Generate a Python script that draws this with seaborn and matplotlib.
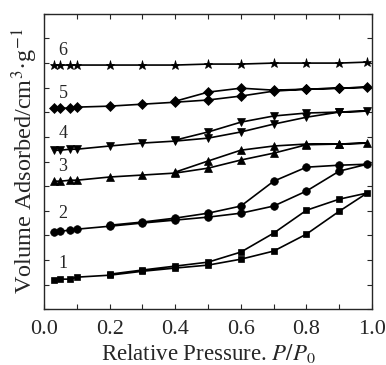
import pandas as pd
import seaborn as sns
import matplotlib.pyplot as plt

# pressoes relativas (adsorcao e dessorcao)
p_ads = [0.03, 0.05, 0.08, 0.10, 0.20, 0.30, 0.40, 0.50, 0.60, 0.70, 0.80, 0.90, 0.985]
p_des = [0.90, 0.80, 0.70, 0.60, 0.50, 0.40, 0.30, 0.20]

# amostra 1 (quadrados)
s1_ads = [1.18, 1.22, 1.22, 1.30, 1.38, 1.54, 1.67, 1.79, 2.03, 2.36, 3.05, 3.98, 4.72]
s1_des = [4.47, 4.02, 3.09, 2.32, 1.91, 1.75, 1.59, 1.42]
# amostra 2 (circulos)
s2_ads = [3.13, 3.17, 3.21, 3.25, 3.37, 3.50, 3.62, 3.74, 3.90, 4.19, 4.80, 5.61, 5.89]
s2_des = [5.85, 5.77, 5.20, 4.19, 3.90, 3.70, 3.54, 3.41]
# amostra 3 (triangulos)
s3_ads = [5.20, 5.20, 5.24, 5.24, 5.37, 5.45, 5.53, 5.73, 6.06, 6.34, 6.68, 6.71, 6.75]
s3_des = [6.71, 6.71, 6.63, 6.46, 6.02, 5.57]
# amostra 4 (triangulos invertidos)
s4_ads = [6.46, 6.46, 6.50, 6.50, 6.63, 6.75, 6.83, 6.95, 7.20, 7.52, 7.80, 8.01, 8.05]
s4_des = [8.01, 7.97, 7.85, 7.60, 7.20, 6.87]
# amostra 5 (losangos)
s5_ads = [8.17, 8.17, 8.17, 8.21, 8.25, 8.33, 8.41, 8.50, 8.66, 8.86, 8.94, 8.98, 9.02]
s5_des = [8.98, 8.94, 8.90, 8.98, 8.82, 8.45]
# amostra 6 (estrelas)
s6_ads = [9.92, 9.92, 9.92, 9.92, 9.92, 9.92, 9.92, 9.96, 9.96, 10.0, 10.0, 10.0, 10.04]
s6_des = []

series = [
    ('1', s1_ads, s1_des, 's', 5),
    ('2', s2_ads, s2_des, 'o', 5.5),
    ('3', s3_ads, s3_des, '^', 6),
    ('4', s4_ads, s4_des, 'v', 6),
    ('5', s5_ads, s5_des, 'D', 5),
    ('6', s6_ads, s6_des, '*', 6.5),
]
label_y = [1.85, 3.88, 5.78, 7.12, 8.75, 10.5]

sns.set_theme(style='ticks')
plt.rcParams['font.family'] = ['Liberation Serif', 'DejaVu Serif']
plt.rcParams['mathtext.fontset'] = 'stix'

fig = plt.figure(figsize=(3.86, 3.65), dpi=100)
ax = fig.add_axes([0.114, 0.153, 0.850, 0.809])

for (nome, ads, des, mk, ms), ly in zip(series, label_y):
    df = pd.DataFrame({'p': p_ads + p_des[:len(des)], 'v': ads + des})
    sns.lineplot(data=df, x='p', y='v', sort=False, estimator=None, ax=ax,
                 color='black', linewidth=1.2, marker=mk, markersize=ms,
                 markeredgecolor='black', markeredgewidth=0.5)
    ax.text(0.058, ly, nome, fontsize=13, ha='center', va='center')

ax.set_xlim(0, 1.0)
ax.set_ylim(0, 12)
ax.set_xticks([0.0, 0.2, 0.4, 0.6, 0.8, 1.0])
ax.set_xticks([0.1, 0.3, 0.5, 0.7, 0.9], minor=True)
ax.set_yticks(range(0, 13))
ax.set_yticklabels([])
ax.tick_params(which='both', direction='in', top=True, right=True,
               length=3.5, width=0.8, labelsize=16, pad=8)
for s in ax.spines.values():
    s.set_linewidth(1.0)

ax.set_xlabel(r'Relative Pressure. $P/P_0$', fontsize=16.5, labelpad=2)
ax.set_ylabel(r'Volume Adsorbed/cm$^3$·g$^{-1}$', fontsize=17.5, labelpad=-5)

plt.savefig('out.png', dpi=100)
